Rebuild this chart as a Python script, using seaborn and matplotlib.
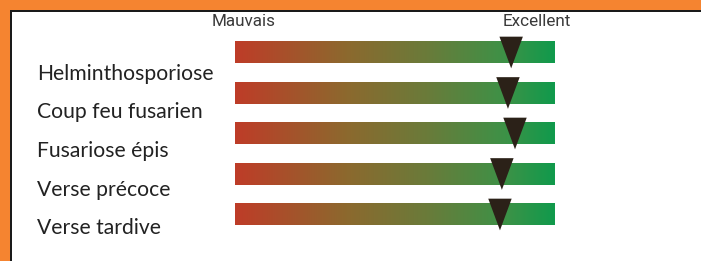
import matplotlib
matplotlib.use('Agg')
import matplotlib.pyplot as plt
import numpy as np
import pandas as pd
import seaborn as sns
from matplotlib.colors import LinearSegmentedColormap
from matplotlib.patches import Rectangle
from matplotlib.path import Path

# disease resistance scores, 0 = Mauvais, 10 = Excellent
diseases = ['Helminthosporiose', 'Coup feu fusarien', 'Fusariose épis',
            'Verse précoce', 'Verse tardive']
scores = [8.63, 8.53, 8.75, 8.34, 8.28]
scale_labels = ['Mauvais', 'Excellent']

df = pd.DataFrame({'disease': diseases, 'score': scores, 'pos': range(len(diseases))})

sns.set_style('white')
plt.rcParams['font.family'] = ['Lato', 'DejaVu Sans']

W, H = 701, 261
fig = plt.figure(figsize=(W / 100, H / 100), dpi=100)
fig.patch.set_facecolor('white')

# orange frame on top and left, with thin black inner line
frame = [((0, 1 - 10 / H), 1, 10 / H, '#F58430'),
         ((0, 0), 9.5 / W, 1, '#F58430'),
         ((9.5 / W, 1 - 12 / H), 1 - 9.5 / W, 2 / H, '#1a1a1a'),
         ((9.5 / W, 0), 2 / W, 1 - 10 / H, '#1a1a1a')]
for xy, w, h, c in frame:
    fig.patches.append(Rectangle(xy, w, h, transform=fig.transFigure,
                                 facecolor=c, linewidth=0))

step = 40.5
top = 52.5 - step / 2
ax = fig.add_axes([235 / W, 1 - (top + step * len(diseases)) / H, 320 / W, step * len(diseases) / H])

cmap = LinearSegmentedColormap.from_list('mv', [
    (0.0, '#BE3C28'), (0.35, '#8C692E'), (0.6, '#6A7B3A'),
    (0.85, '#3C9247'), (1.0, '#109A4C')])
grad = np.linspace(0, 1, 256).reshape(1, -1)
half = 0.26
for i in df['pos']:
    ax.imshow(grad, cmap=cmap, aspect='auto', extent=(0, 10, i + half, i - half), zorder=1)

tri = Path([(-0.37, 0.5), (0.37, 0.5), (0, -0.5), (-0.37, 0.5)],
           [Path.MOVETO, Path.LINETO, Path.LINETO, Path.CLOSEPOLY])
sns.scatterplot(data=df, x='score', y='pos', marker=tri, s=520, color='#2B2118',
                edgecolor='none', ax=ax, zorder=3, legend=False)

ax.set_xlim(0, 10)
ax.set_ylim(len(diseases) - 0.5, -0.5)
ax.axis('off')

for i, name in enumerate(diseases):
    fig.text(37 / W, 1 - (74 + i * 38.5) / H, name, fontsize=15.2, color='#222222',
             va='center', ha='left')

fig.text(244 / W, 1 - 22 / H, scale_labels[0], fontsize=12.3, color='#3a3a3a',
         ha='center', va='center', family=['Roboto', 'DejaVu Sans'])
fig.text(537 / W, 1 - 22 / H, scale_labels[1], fontsize=12.3, color='#3a3a3a',
         ha='center', va='center', family=['Roboto', 'DejaVu Sans'])

fig.savefig('out.png', dpi=100)
